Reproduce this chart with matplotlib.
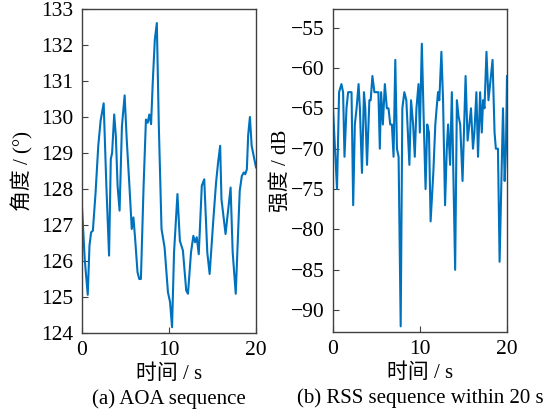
import matplotlib
matplotlib.use("Agg")
import matplotlib.pyplot as plt

# AOA sequence (time in s, angle in degrees)
aoa_t = [0.0, 0.31, 0.66, 0.86, 1.05, 1.25, 1.56, 1.87, 2.14, 2.49, 2.8, 3.11,
         3.31, 3.46, 3.70, 3.89, 4.09, 4.32, 4.59, 4.9, 5.14, 5.45, 5.72, 5.91,
         6.11, 6.38, 6.58, 6.77, 7.08, 7.35, 7.55, 7.74, 7.94, 8.13, 8.37, 8.6,
         8.83, 9.14, 9.49, 9.88, 10.12, 10.35, 10.58, 10.97, 11.25, 11.6, 11.98,
         12.18, 12.53, 12.8, 13.0, 13.19, 13.42, 13.77, 14.05, 14.4, 14.67, 15.1,
         15.41, 15.64, 15.88, 16.03, 16.5, 16.77, 17.08, 17.32, 17.67, 18.13,
         18.37, 18.6, 18.76, 18.95, 19.1, 19.3, 19.5, 20.0]
aoa_v = [127.5, 126.06, 125.06, 126.43, 126.8, 126.84, 127.9, 129.2, 129.9,
         130.38, 128.09, 126.15, 128.83, 129.0, 130.07, 129.47, 128.09, 127.4,
         129.75, 130.6, 129.38, 128.09, 126.89, 127.21, 126.61, 125.69, 125.5,
         125.5, 128.09, 129.93, 129.84, 130.07, 129.8, 130.95, 132.15, 132.61,
         129.75, 126.89, 126.38, 125.13, 124.86, 124.16, 126.24, 127.86, 126.56,
         126.29, 125.18, 125.09, 126.24, 126.7, 126.52, 126.66, 126.19, 128.09,
         128.27, 126.24, 125.64, 127.16, 128.18, 128.73, 129.2, 127.72, 126.75,
         127.35, 128.04, 126.24, 125.09, 127.95, 128.36, 128.46, 128.41, 128.55,
         129.5, 130.0, 129.2, 128.6]

# RSS sequence (time in s, strength in dB)
rss_t = [0.0, 0.46, 0.70, 0.97, 1.16, 1.32, 1.55, 1.74, 2.13, 2.32, 2.51, 2.71,
         2.94, 3.09, 3.33, 3.56, 3.71, 3.91, 4.18, 4.33, 4.53, 4.76, 5.22, 5.38,
         5.53, 5.73, 5.96, 6.19, 6.38, 6.58, 6.77, 6.96, 7.16, 7.35, 7.54, 7.78,
         7.97, 8.20, 8.43, 8.78, 8.97, 9.21, 9.40, 9.59, 9.83, 9.98, 10.21, 10.44,
         10.64, 10.83, 11.03, 11.22, 11.53, 11.76, 11.91, 12.07, 12.22, 12.46,
         12.65, 12.88, 13.08, 13.23, 13.46, 13.66, 14.04, 14.24, 14.43, 14.62,
         14.89, 15.24, 15.47, 15.67, 15.86, 16.09, 16.25, 16.48, 16.67, 16.91,
         17.10, 17.25, 17.41, 17.64, 17.87, 18.34, 18.57, 18.72, 18.96, 19.15,
         19.54, 19.73, 19.88, 20.0]
rss_v = [-65, -75, -63, -62, -63, -71, -65, -63, -63, -77, -67, -65, -62, -65,
         -73, -63, -65, -72, -64, -64, -61, -63, -63, -70, -63, -67, -62, -65,
         -65, -67, -67, -71, -59, -70, -71, -92, -65, -63, -64, -72, -64, -67,
         -71, -65, -62, -68, -57, -67, -75, -67, -68, -79, -73, -67, -65, -63,
         -64, -58, -64, -77, -70, -67, -72, -63, -85, -64, -66, -67, -74, -61,
         -69, -67, -65, -70, -68, -63, -71, -63, -68, -64, -65, -58, -64, -59,
         -68, -70, -70, -84, -65, -74, -70, -61]

aoa_ticks = list(range(124, 134))
rss_ticks = [-90, -85, -80, -75, -70, -65, -60, -55]
xticks = [0, 10, 20]

fonts = ["Liberation Serif", "Noto Sans CJK SC"]
line_color = "#0072BD"
edge = "#404040"
W, H = 559, 415

fig = plt.figure(figsize=(W / 100, H / 100), dpi=100)
ax1 = fig.add_axes([82 / W, (H - 333) / H, 174 / W, 324 / H])
ax2 = fig.add_axes([333 / W, (H - 332) / H, 174 / W, 323 / H])

ax1.plot(aoa_t, aoa_v, color=line_color, lw=1.5)
ax1.set_xlim(0, 20)
ax1.set_ylim(124, 133)
ax1.set_yticks(aoa_ticks)
ax1.set_ylabel("角度 / (°)", family=fonts, fontsize=15, labelpad=6)

ax2.plot(rss_t, rss_v, color=line_color, lw=1.5)
ax2.set_xlim(0, 20)
ax2.set_ylim(-92.7, -52.7)
ax2.set_yticks(rss_ticks)
ax2.set_ylabel("强度 / dB", family=fonts, fontsize=15, labelpad=0)

for ax, cap in [(ax1, "(a) AOA sequence"), (ax2, "(b) RSS sequence within 20 s")]:
    ax.set_xticks(xticks)
    ax.tick_params(direction="in", length=4, width=0.8, color=edge,
                   labelsize=15.5, pad=6)
    for lab in ax.get_xticklabels() + ax.get_yticklabels():
        lab.set_family(fonts)
    for sp in ax.spines.values():
        sp.set_color(edge)
        sp.set_linewidth(1.0)
    ax.set_xlabel("时间 / s", family=fonts, fontsize=15, labelpad=3)
    ax.text(0.5, -0.205, cap, transform=ax.transAxes, ha="center", va="center",
            family=fonts, fontsize=15)

fig.savefig("out.png", dpi=100)
